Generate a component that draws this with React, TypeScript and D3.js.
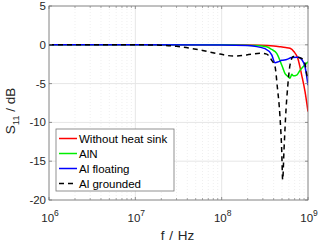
import React from 'react';
import * as d3 from 'd3';

// frequency in Hz, S11 in dB
const redF = [1e6, 1e7, 1e8, 2.8e8, 4e8, 4.74e8, 5.5e8, 6.19e8, 6.89e8, 7.6e8, 8.45e8, 9.23e8, 1e9];
const redS = [0, 0, 0, -0.05, -0.15, -0.25, -0.35, -0.45, -0.9, -1.7, -3.9, -6, -8.6];

const greenF = [1e6, 1e7, 1e8, 1.63e8, 2.5e8, 3.32e8, 3.8e8, 4.34e8, 4.96e8, 5.42e8, 5.9e8, 6.19e8, 6.5e8, 6.76e8, 7.4e8, 8.07e8, 8.83e8, 1e9];
const greenS = [0, 0, 0, -0.05, -0.1, -0.25, -0.6, -1.1, -2.6, -3.7, -4.1, -4.3, -3.8, -4.0, -3.9, -3.3, -2.8, -2.2];

const blueF = [1e6, 1e7, 1e8, 2e8, 2.43e8, 3.18e8, 3.8e8, 4.15e8, 4.5e8, 4.96e8, 5.67e8, 6.47e8, 7.72e8, 8.45e8, 9.23e8, 1e9];
const blueS = [0, 0, -0.02, -0.1, -0.2, -0.5, -1.3, -2.3, -2.2, -2.0, -1.9, -1.65, -1.6, -1.9, -2.8, -5.2];

const blackF = [1e6, 1e7, 1.93e7, 3e7, 5.61e7, 9.57e7, 1.36e8, 1.95e8, 2.78e8, 3.32e8, 3.8e8, 4.15e8, 4.41e8, 4.74e8, 4.96e8, 5.09e8, 5.27e8, 5.56e8, 5.82e8, 6.19e8, 6.76e8, 7.72e8, 8.45e8, 9.23e8, 9.64e8, 1e9];
const blackS = [0, 0, -0.05, -0.2, -0.67, -1.2, -1.45, -1.3, -1.1, -1.2, -2.0, -2.8, -5.4, -9.3, -13.6, -17.4, -13.6, -8.4, -5.4, -2.6, -1.5, -1.6, -1.75, -2.4, -3.7, -4.3];

const seriesNames = ['Without heat sink', 'AlN', 'Al floating', 'Al grounded'];
const xTickExp = [6, 7, 8, 9];
const yTicks = [5, 0, -5, -10, -15, -20];

const width = 320;
const height = 243;
const left = 49, right = 308, top = 6, bottom = 200;
const font = '"Liberation Sans", Arial, Helvetica, sans-serif';

const xScale = d3.scaleLog().domain([1e6, 1e9]).range([left, right]);
const yScale = d3.scaleLinear().domain([-20, 5]).range([bottom, top]);

const series = [
  { name: seriesNames[0], f: redF, s: redS, color: '#ff0000', dash: null },
  { name: seriesNames[1], f: greenF, s: greenS, color: '#00ee00', dash: null },
  { name: seriesNames[2], f: blueF, s: blueS, color: '#0000ff', dash: null },
  { name: seriesNames[3], f: blackF, s: blackS, color: '#000000', dash: '5,4' },
];

const line = d3.line<[number, number]>()
  .x((d) => xScale(d[0]))
  .y((d) => yScale(d[1]))
  .curve(d3.curveMonotoneX);

const minorTicks: number[] = [];
for (let e = 6; e < 9; e++) {
  for (let m = 2; m <= 9; m++) minorTicks.push(m * Math.pow(10, e));
}

export default function App() {
  return (
    <svg width={width} height={height} style={{ position: 'absolute', left: 0, top: 0, background: '#fff' }}
      fontFamily={font}>
      <rect x={left} y={top} width={right - left} height={bottom - top} fill="#fff" />
      {/* grid */}
      {minorTicks.map((t) => (
        <line key={'mg' + t} x1={xScale(t)} x2={xScale(t)} y1={top} y2={bottom}
          stroke="#e4e4e4" strokeWidth={0.6} strokeDasharray="1,2" />
      ))}
      {xTickExp.map((e) => (
        <line key={'xg' + e} x1={xScale(Math.pow(10, e))} x2={xScale(Math.pow(10, e))} y1={top} y2={bottom}
          stroke="#e6e6e6" strokeWidth={1} />
      ))}
      {yTicks.map((t) => (
        <line key={'yg' + t} x1={left} x2={right} y1={yScale(t)} y2={yScale(t)}
          stroke="#e6e6e6" strokeWidth={1} />
      ))}
      {/* curves */}
      <g clipPath="url(#clip)">
        {series.map((s) => (
          <path key={s.name} d={line(s.f.map((f, i) => [f, s.s[i]] as [number, number])) || ''}
            fill="none" stroke={s.color} strokeWidth={1.5} strokeDasharray={s.dash || undefined} />
        ))}
      </g>
      <defs>
        <clipPath id="clip"><rect x={left} y={top} width={right - left} height={bottom - top} /></clipPath>
      </defs>
      {/* frame and ticks */}
      <rect x={left} y={top} width={right - left} height={bottom - top} fill="none" stroke="#777" strokeWidth={0.8} />
      {minorTicks.map((t) => (
        <g key={'mt' + t}>
          <line x1={xScale(t)} x2={xScale(t)} y1={bottom} y2={bottom - 2} stroke="#777" strokeWidth={0.6} />
          <line x1={xScale(t)} x2={xScale(t)} y1={top} y2={top + 2} stroke="#777" strokeWidth={0.6} />
        </g>
      ))}
      {xTickExp.map((e) => {
        const x = xScale(Math.pow(10, e));
        return (
          <g key={'xt' + e}>
            <line x1={x} x2={x} y1={bottom} y2={bottom - 3} stroke="#777" strokeWidth={0.8} />
            <line x1={x} x2={x} y1={top} y2={top + 3} stroke="#777" strokeWidth={0.8} />
            <text x={x + 1} y={222} textAnchor="middle" fontSize={11.5} fill="#262626">
              10<tspan fontSize={8.5} dy={-6}>{e}</tspan>
            </text>
          </g>
        );
      })}
      {yTicks.map((t) => {
        const y = yScale(t);
        return (
          <g key={'yt' + t}>
            <line x1={left} x2={left + 3} y1={y} y2={y} stroke="#777" strokeWidth={0.8} />
            <line x1={right} x2={right - 3} y1={y} y2={y} stroke="#777" strokeWidth={0.8} />
            <text x={46} y={y + 4} textAnchor="end" fontSize={11.5} fill="#262626">{t}</text>
          </g>
        );
      })}
      {/* axis labels */}
      <text x={177.5} y={239.5} textAnchor="middle" fontSize={13.5} fill="#262626" wordSpacing={1}>f / Hz</text>
      <text transform="translate(15,111) rotate(-90)" textAnchor="middle" fontSize={13.5} fill="#262626">
        S<tspan fontSize={9.5} dy={4}>11</tspan><tspan dy={-4}> / dB</tspan>
      </text>
      {/* legend */}
      <rect x={56} y={129} width={118} height={62} fill="#fff" stroke="#777" strokeWidth={0.8} />
      {series.map((s, i) => {
        const y = 138.5 + i * 15;
        return (
          <g key={'lg' + s.name}>
            <line x1={59} x2={77} y1={y} y2={y} stroke={s.color} strokeWidth={1.5}
              strokeDasharray={s.dash || undefined} />
            <text x={79} y={y + 4} fontSize={11.5} fill="#000">{s.name}</text>
          </g>
        );
      })}
    </svg>
  );
}
